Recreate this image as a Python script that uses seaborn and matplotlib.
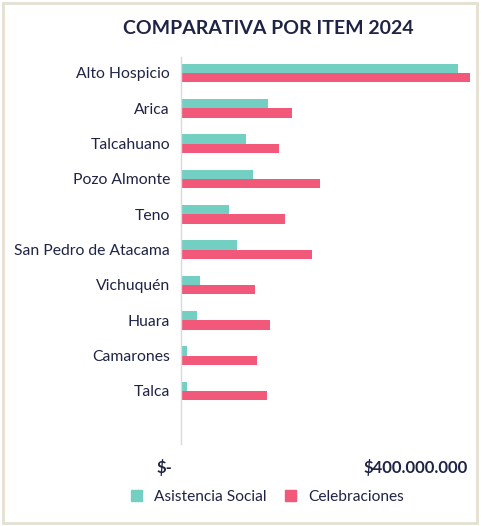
import pandas as pd
import seaborn as sns
import matplotlib.pyplot as plt
from matplotlib.patches import Rectangle
from matplotlib.transforms import ScaledTranslation

# data (values in pesos)
comunas = ["Alto Hospicio", "Arica", "Talcahuano", "Pozo Almonte", "Teno",
           "San Pedro de Atacama", "Vichuquén", "Huara", "Camarones", "Talca"]
asistencia_social = [383e6, 120e6, 90e6, 99e6, 67e6, 77e6, 27e6, 22e6, 9e6, 8e6]
celebraciones = [400e6, 153e6, 135e6, 192e6, 144e6, 182e6, 103e6, 123e6, 105e6, 119e6]
series = ["Asistencia Social", "Celebraciones"]
x_ticks = [0, 400e6]
x_ticklabels = ["$-", "$400.000.000"]
title = "COMPARATIVA POR ITEM 2024"

df = pd.DataFrame({
    "Comuna": comunas * 2,
    "Monto": asistencia_social + celebraciones,
    "Item": [series[0]] * len(comunas) + [series[1]] * len(comunas),
})

NAVY = "#1f2444"
TEAL = "#74cfc3"
PINK = "#f2587a"

sns.set_theme(style="white")
plt.rcParams["font.family"] = ["Lato", "DejaVu Sans"]

fig = plt.figure(figsize=(4.82, 5.26), dpi=100)
ax = fig.add_axes([0.3755, 0.156, 0.5995, 0.7357])

sns.barplot(data=df, x="Monto", y="Comuna", hue="Item", order=comunas,
            hue_order=series, palette=[TEAL, PINK], width=0.53,
            saturation=1, linewidth=0, ax=ax, legend=False)

ax.set_xlim(0, 400e6)
ax.set_ylim(10.5, -0.45)
ax.set_xlabel("")
ax.set_ylabel("")
for s in ["top", "right", "bottom"]:
    ax.spines[s].set_visible(False)
ax.spines["left"].set_color("#d9d9d9")
ax.spines["left"].set_linewidth(1)

ax.tick_params(axis="y", length=0, pad=8, labelsize=11.3, labelcolor=NAVY)
ax.tick_params(axis="x", length=0, pad=11, labelcolor=NAVY)
ax.set_xticks(x_ticks)
ax.set_xticklabels(x_ticklabels, fontsize=12, fontweight="bold", ha="right")
offsets = [-9, -2]
for lab, dx in zip(ax.get_xticklabels(), offsets):
    lab.set_transform(lab.get_transform() + ScaledTranslation(dx / 100, 0, fig.dpi_scale_trans))

fig.text(0.556, 0.946, title, ha="center", va="center", fontsize=14,
         fontweight="bold", color=NAVY)

handles = [Rectangle((0, 0), 1, 1, color=c) for c in [TEAL, PINK]]
fig.legend(handles, series, loc="center", bbox_to_anchor=(0.555, 0.055),
           ncol=2, frameon=False, fontsize=11.2, labelcolor=NAVY,
           handlelength=0.7, handleheight=0.7, handletextpad=0.8,
           columnspacing=1.2)

# light frame around the chart
fig.patches.append(Rectangle((0.006, 0.006), 0.984, 0.988, transform=fig.transFigure,
                             fill=False, edgecolor="#e4e0d2", linewidth=2))

fig.savefig("out.png", dpi=100)
